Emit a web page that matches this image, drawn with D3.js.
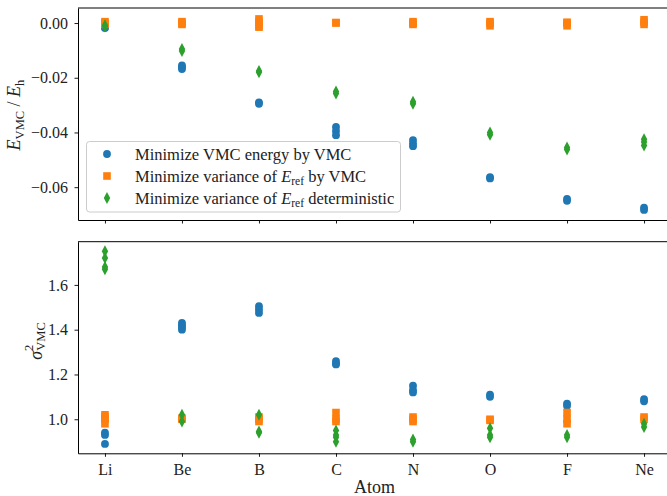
<!DOCTYPE html>
<html>
<head>
<meta charset="utf-8">
<script src="https://cdn.jsdelivr.net/npm/d3@7"></script>
</head>
<body style="margin:0">
<svg id="chart" width="667" height="496"></svg>
<script>
// Atoms on the x axis
const atoms = ["Li", "Be", "B", "C", "N", "O", "F", "Ne"];

// Energy error E_VMC / E_h (top panel), one list of repeats per atom
const energyMinVMC = [[-0.0015, -0.0018], [-0.0155, -0.0162, -0.0168], [-0.0290, -0.0295], [-0.0380, -0.0395, -0.0410],
                      [-0.0428, -0.0440, -0.0450], [-0.0563, -0.0568], [-0.0643, -0.0650], [-0.0675, -0.0683]];
const energyVarVMC = [[0.0005, 0.0000, -0.0005], [0.0005, -0.0005, 0.0000], [0.0015, 0.0005, -0.0010, -0.0015], [0.0000, 0.0002],
                      [0.0005, -0.0005, 0.0000], [0.0005, -0.0010, 0.0000], [0.0003, -0.0010, 0.0000], [0.0012, -0.0005, 0.0003]];
const energyVarDet = [[-0.0008, -0.0013], [-0.0095, -0.0102], [-0.0175, -0.0180], [-0.0250, -0.0258],
                      [-0.0288, -0.0295], [-0.0400, -0.0408], [-0.0455, -0.0462], [-0.0425, -0.0435, -0.0448]];

// Variance sigma^2_VMC (bottom panel)
const sigmaMinVMC = [[0.94, 0.93, 0.89], [1.43, 1.42, 1.41, 1.40], [1.505, 1.49, 1.475], [1.26, 1.25, 1.245],
                     [1.15, 1.13, 1.12], [1.11, 1.10], [1.07, 1.06], [1.09, 1.08]];
const sigmaVarVMC = [[1.02, 1.00, 0.98, 1.01], [1.005, 1.00], [1.00, 1.01, 0.99], [1.03, 1.00, 0.99],
                     [1.00, 1.01, 0.99], [1.00, 0.995], [1.03, 1.00, 0.98], [1.01, 1.00]];
const sigmaVarDet = [[1.75, 1.72, 1.68, 1.67], [1.02, 0.99], [1.02, 0.945, 0.94], [0.95, 0.93, 0.92, 0.90],
                     [0.91, 0.90], [0.96, 0.93, 0.92], [0.93, 0.92], [0.98, 0.965]];

const seriesNames = ["Minimize VMC energy by VMC", "Minimize variance of ", "Minimize variance of "];
const topTicks = [0, -0.02, -0.04, -0.06];
const bottomTicks = [1.0, 1.2, 1.4, 1.6];

const left = 78, right = 671;
const colors = ["#1f77b4", "#ff7f0e", "#2ca02c"];

const svg = d3.select("#chart");

const x = d3.scalePoint().domain(atoms).range([left, right]).padding(0.35);
const yTop = d3.scaleLinear().domain([-0.0720, 0.0055]).range([220, 8]);
const yBot = d3.scaleLinear().domain([0.848, 1.793]).range([453.3, 241.7]);

const circle = d3.symbol().type(d3.symbolCircle).size(48);
const square = d3.symbol().type(d3.symbolSquare).size(58);
function marker(g, i) {
  // thin diamond like matplotlib 'd' for the third series
  const d = i === 0 ? circle() : i === 1 ? square() : "M0,-6L3.2,0L0,6L-3.2,0Z";
  g.append("path").attr("d", d).attr("fill", colors[i]);
}

function drawPanel(y, series, ticks, fmt, showLabels) {
  const g = svg.append("g");
  series.forEach((s, i) => {
    atoms.forEach((a, k) => {
      s[k].forEach(v => {
        marker(g.append("g").attr("transform", `translate(${x(a)},${y(v)})`), i);
      });
    });
  });

  const xAxis = g.append("g")
    .attr("transform", `translate(0,${y.range()[0]})`)
    .call(d3.axisBottom(x).tickSize(3.5).tickSizeOuter(0).tickPadding(6.5));
  if (!showLabels) xAxis.selectAll("text").remove();

  g.append("g")
    .attr("transform", `translate(${left},0)`)
    .call(d3.axisLeft(y).tickValues(ticks).tickFormat(fmt).tickSize(3.5).tickSizeOuter(0).tickPadding(6.5));

  g.append("line").attr("x1", left).attr("x2", right)
    .attr("y1", y.range()[1]).attr("y2", y.range()[1]).attr("stroke", "#000");

  g.selectAll("g").attr("font-family", "serif").attr("font-size", 16);
  g.selectAll(".domain").attr("stroke", "#000").attr("stroke-width", 1);
  g.selectAll(".tick line").attr("stroke", "#000").attr("stroke-width", 0.9);
  g.selectAll(".tick text").attr("fill", "#222");
}

drawPanel(yTop, [energyMinVMC, energyVarVMC, energyVarDet], topTicks, d3.format(".2f"), false);
drawPanel(yBot, [sigmaMinVMC, sigmaVarVMC, sigmaVarDet], bottomTicks, d3.format(".1f"), true);

// y labels
const yl1 = svg.append("text")
  .attr("font-family", "serif").attr("font-size", 18)
  .attr("transform", `translate(20,115) rotate(-90)`)
  .attr("text-anchor", "middle").attr("fill", "#222");
yl1.append("tspan").attr("font-style", "italic").text("E");
yl1.append("tspan").attr("dy", 3.5).attr("font-size", 12.5).text("VMC");
yl1.append("tspan").attr("dy", -3.5).text(" / ");
yl1.append("tspan").attr("font-style", "italic").text("E");
yl1.append("tspan").attr("dy", 3.5).attr("font-size", 12.5).text("h");

const yl2 = svg.append("text")
  .attr("font-family", "serif").attr("font-size", 18)
  .attr("transform", `translate(42,341) rotate(-90)`)
  .attr("text-anchor", "middle").attr("fill", "#222");
yl2.append("tspan").attr("font-style", "italic").text("σ");
yl2.append("tspan").attr("dy", -9).attr("font-size", 12.5).text("2");
yl2.append("tspan").attr("dx", -6).attr("dy", 12).attr("font-size", 12.5).text("VMC");

// x label
svg.append("text").attr("x", (left + 671) / 2).attr("y", 493)
  .attr("font-family", "serif").attr("font-size", 18)
  .attr("text-anchor", "middle").attr("fill", "#222").text("Atom");

// legend
const legend = svg.append("g");
legend.append("rect").attr("x", 86.5).attr("y", 141.5).attr("width", 314).attr("height", 70.5)
  .attr("rx", 3).attr("fill", "#fff").attr("fill-opacity", 0.8).attr("stroke", "#ccc");
[0, 1, 2].forEach(i => {
  const ly = 154 + i * 22;
  marker(legend.append("g").attr("transform", `translate(107,${ly})`), i);
  const t = legend.append("text").attr("x", 135).attr("y", ly + 5.5)
    .attr("font-family", "serif").attr("font-size", 16.5).attr("fill", "#222");
  t.append("tspan").text(seriesNames[i]);
  if (i > 0) {
    t.append("tspan").attr("font-style", "italic").text("E");
    t.append("tspan").attr("dy", 3.5).attr("font-size", 11.5).text("ref");
    t.append("tspan").attr("dy", -3.5).text(i === 1 ? " by VMC" : " deterministic");
  }
});
</script>
</body>
</html>
